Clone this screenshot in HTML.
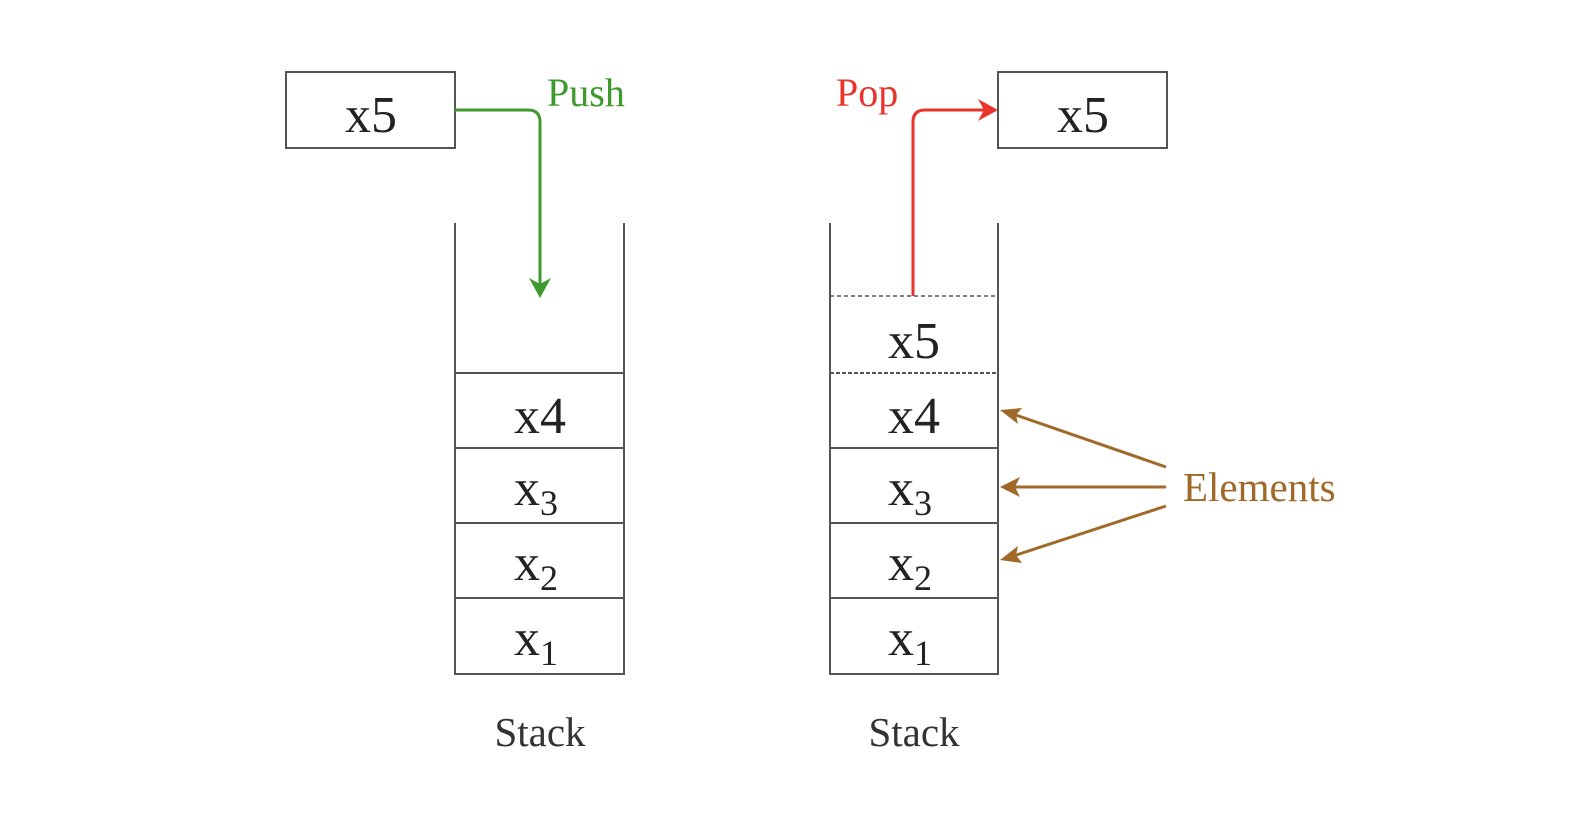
<!DOCTYPE html>
<html><head><style>
html,body{margin:0;padding:0;background:#fff;}
svg text{font-family:"Liberation Serif","DejaVu Serif",serif;}
</style></head><body>
<svg width="1588" height="822" viewBox="0 0 1588 822" xmlns="http://www.w3.org/2000/svg">
<g stroke="#555" stroke-width="2" fill="none">
<rect x="286" y="72" width="169" height="76"/>
<rect x="998" y="72" width="169" height="76"/>
<path d="M455,223 V674 H624 V223"/>
<line x1="455" y1="373" x2="624" y2="373"/>
<line x1="455" y1="448" x2="624" y2="448"/>
<line x1="455" y1="523" x2="624" y2="523"/>
<line x1="455" y1="598" x2="624" y2="598"/>
<path d="M830,223 V674 H998 V223"/>
<line x1="830" y1="448" x2="998" y2="448"/>
<line x1="830" y1="523" x2="998" y2="523"/>
<line x1="830" y1="598" x2="998" y2="598"/>
</g>
<line x1="830" y1="296" x2="998" y2="296" stroke="#555" stroke-width="1.5" stroke-dasharray="4,3"/>
<line x1="830" y1="373" x2="998" y2="373" stroke="#555" stroke-width="2" stroke-dasharray="4,2"/>
<!-- push -->
<path d="M455,110 H528 Q540,110 540,122 V285" stroke="#3f9a2e" stroke-width="3" fill="none"/>
<path d="M529,278 L540,298 L551,278 L540,284 Z" fill="#3f9a2e"/>
<text x="547" y="106" font-size="40" fill="#3f9a2e">Push</text>
<!-- pop -->
<path d="M913,296 V122 Q913,110 925,110 H985" stroke="#e8342c" stroke-width="3" fill="none"/>
<path d="M978,99 L998,110 L978,121 L984,110 Z" fill="#e8342c"/>
<text x="836" y="106" font-size="40" fill="#e8342c">Pop</text>
<!-- elements -->
<g stroke="#a0692a" stroke-width="3" fill="none">
<line x1="1166" y1="467" x2="1010" y2="413"/>
<line x1="1166" y1="487" x2="1012" y2="487"/>
<line x1="1166" y1="506" x2="1010" y2="557"/>
</g>
<g fill="#a0692a">
<path d="M1000,410 L1022,408 L1016,415 L1018,424 Z"/>
<path d="M1000,487 L1020,477 L1015,487 L1020,497 Z"/>
<path d="M1000,560 L1018,546 L1016,555 L1022,563 Z"/>
</g>
<text x="1183" y="501" font-size="41" fill="#a0692a">Elements</text>
<!-- labels -->
<g font-size="52" fill="#222" text-anchor="middle">
<text x="371" y="132">x5</text>
<text x="1083" y="132">x5</text>
<text x="540" y="433">x4</text>
<text x="914" y="358">x5</text>
<text x="914" y="433">x4</text>
</g>
<g font-size="52" fill="#222">
<text x="514" y="505">x<tspan font-size="36" dy="10">3</tspan></text>
<text x="514" y="580">x<tspan font-size="36" dy="10">2</tspan></text>
<text x="514" y="655">x<tspan font-size="36" dy="10">1</tspan></text>
<text x="888" y="505">x<tspan font-size="36" dy="10">3</tspan></text>
<text x="888" y="580">x<tspan font-size="36" dy="10">2</tspan></text>
<text x="888" y="655">x<tspan font-size="36" dy="10">1</tspan></text>
</g>
<g font-size="41" fill="#333" text-anchor="middle">
<text x="540" y="746">Stack</text>
<text x="914" y="746">Stack</text>
</g>
</svg>
</body></html>
